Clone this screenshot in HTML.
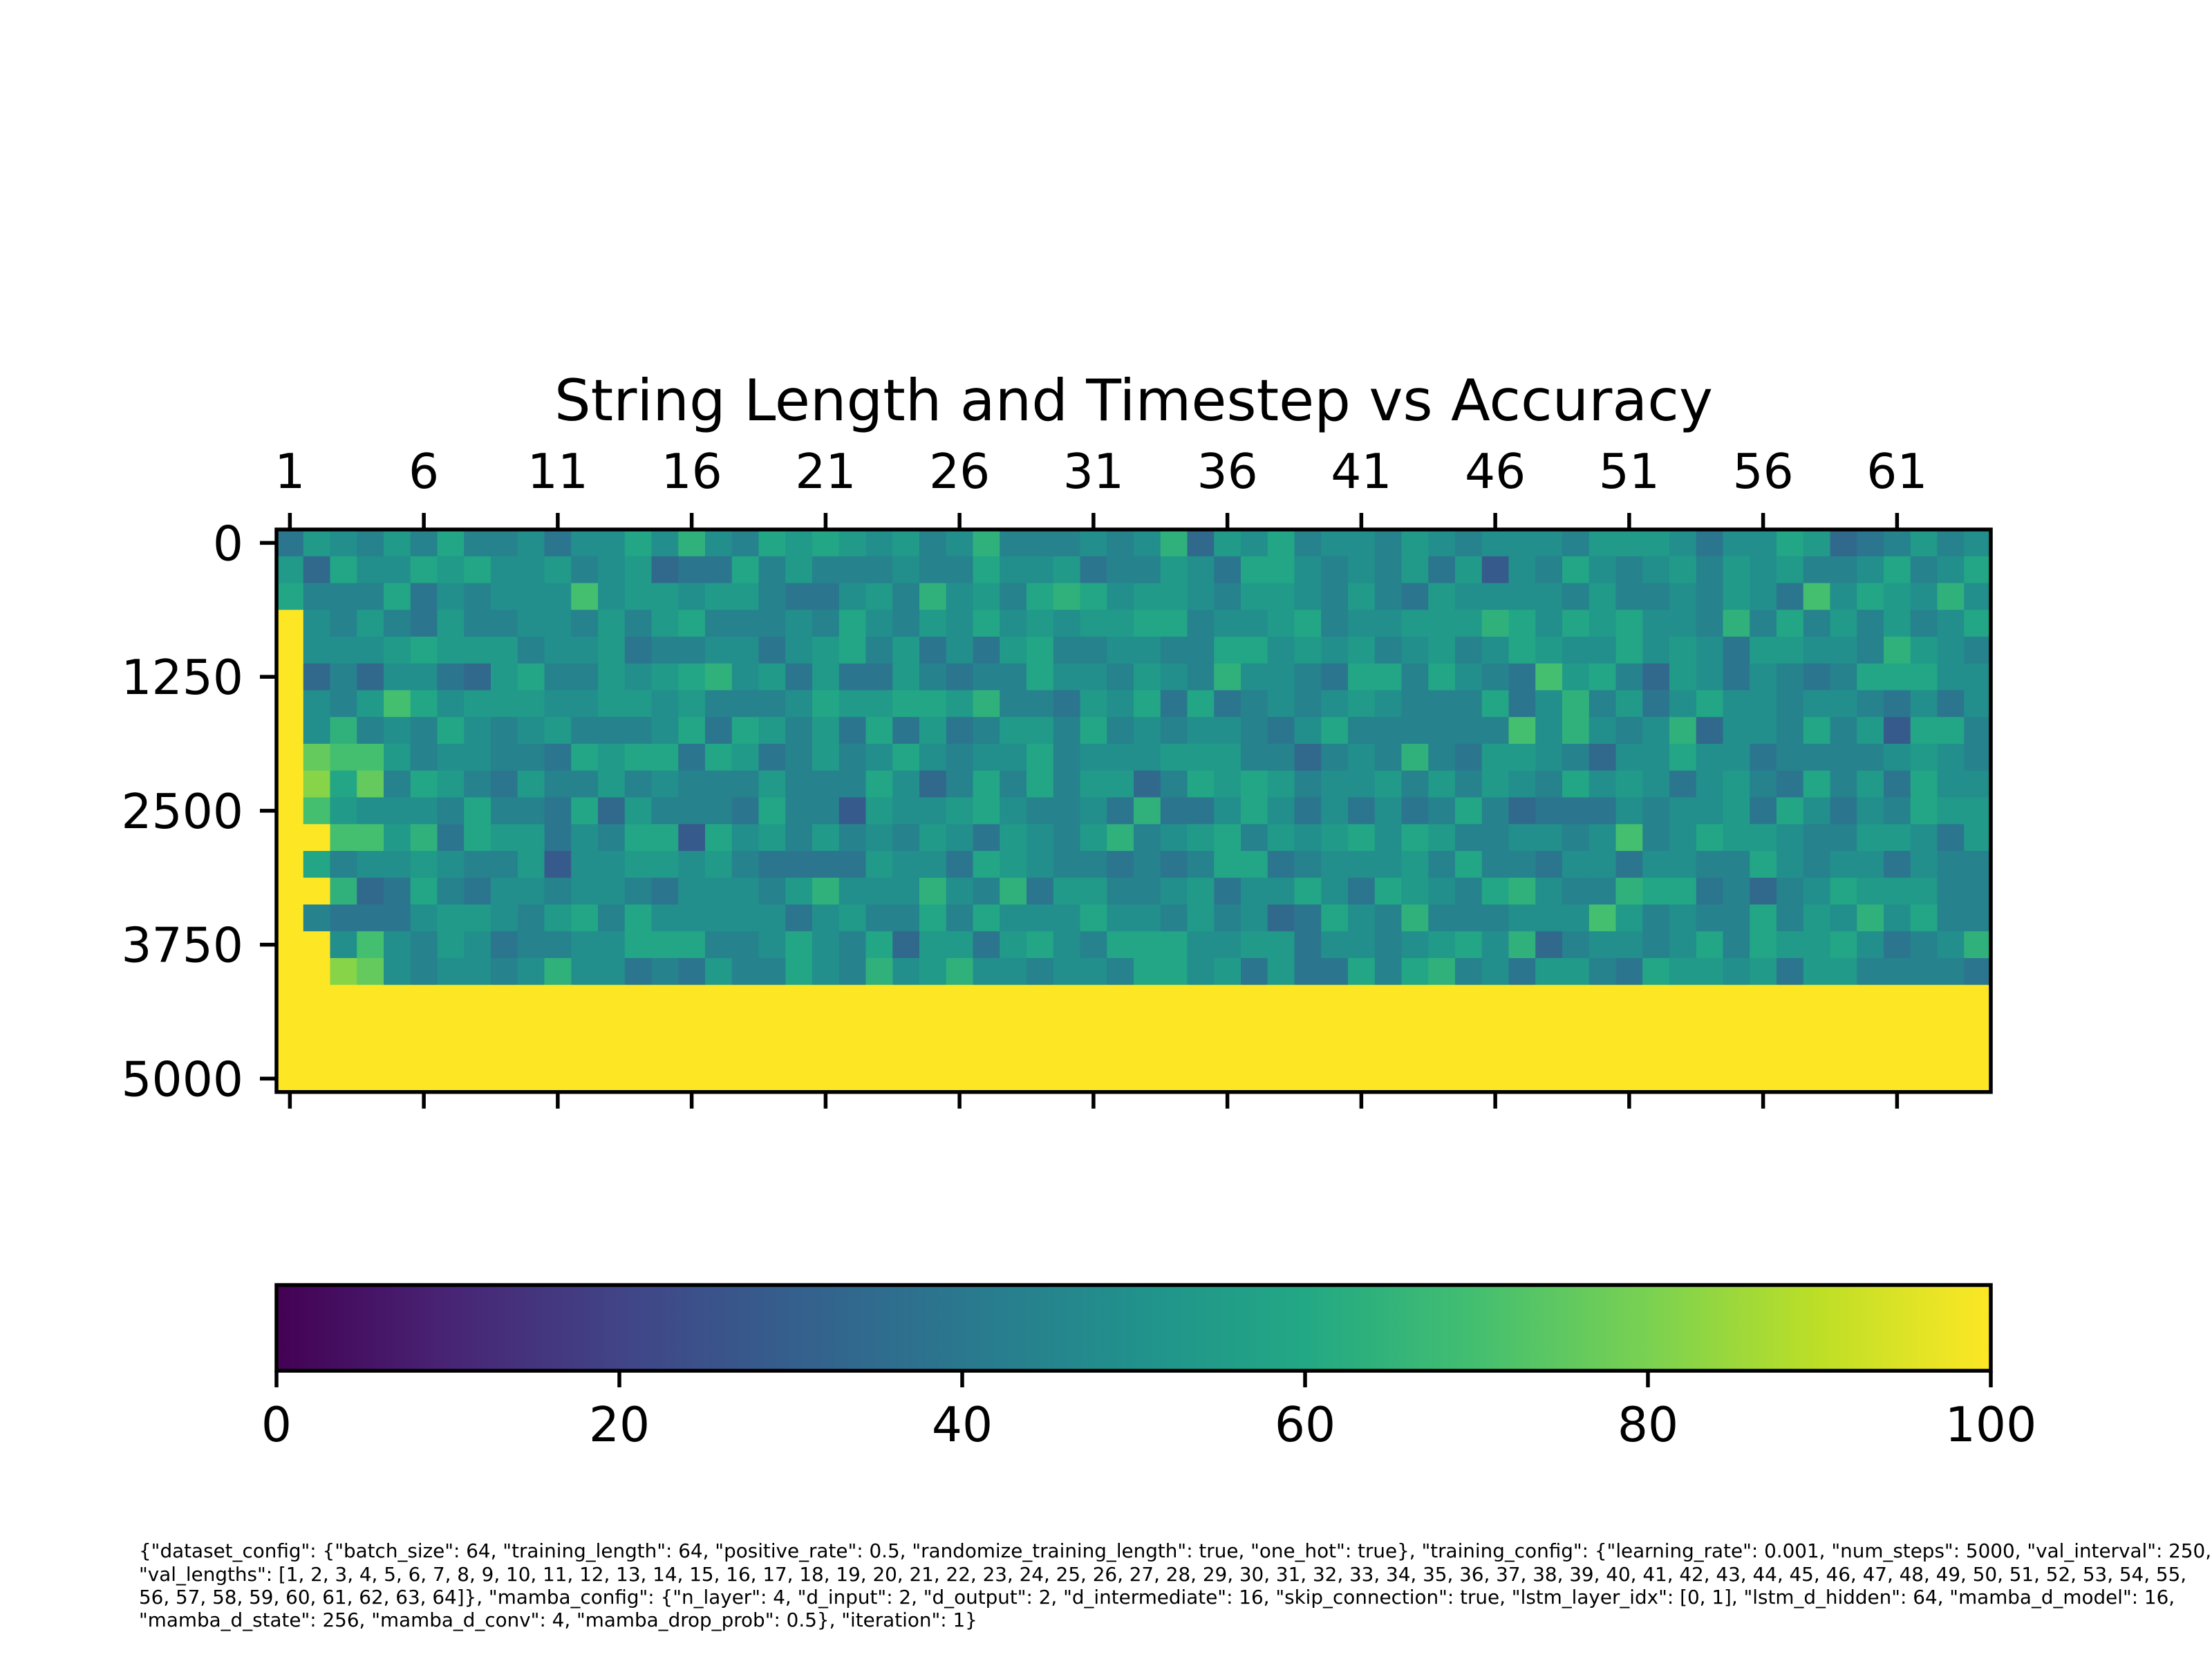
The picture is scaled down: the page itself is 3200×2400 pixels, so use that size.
<!DOCTYPE html>
<html><head><meta charset="utf-8"><title>String Length and Timestep vs Accuracy</title>
<style>
html,body{margin:0;padding:0;background:#fff;}
svg{display:block;font-family:"DejaVu Sans","Liberation Sans",sans-serif;}
</style></head>
<body>
<svg id="chart" width="3200" height="2400" viewBox="0 0 3200 2400" xmlns="http://www.w3.org/2000/svg">
<defs>
<linearGradient id="viridis" x1="0" x2="1" y1="0" y2="0">
<stop offset="0" stop-color="#440154"/><stop offset="0.1" stop-color="#482475"/><stop offset="0.2" stop-color="#414487"/><stop offset="0.3" stop-color="#355f8d"/><stop offset="0.4" stop-color="#2a788e"/><stop offset="0.5" stop-color="#21918c"/><stop offset="0.6" stop-color="#22a884"/><stop offset="0.7" stop-color="#44bf70"/><stop offset="0.8" stop-color="#7ad151"/><stop offset="0.9" stop-color="#bddf26"/><stop offset="1" stop-color="#fde725"/>
</linearGradient>
</defs>
<text x="1640" y="608" font-size="83" text-anchor="middle" fill="#000">String Length and Timestep vs Accuracy</text>
<g id="cells"></g>
<g id="axes"></g>
<g id="cbar"></g>
<g font-size="27.8" fill="#000">
<text x="201" y="2253">{"dataset_config": {"batch_size": 64, "training_length": 64, "positive_rate": 0.5, "randomize_training_length": true, "one_hot": true}, "training_config": {"learning_rate": 0.001, "num_steps": 5000, "val_interval": 250,</text>
<text x="201" y="2287">"val_lengths": [1, 2, 3, 4, 5, 6, 7, 8, 9, 10, 11, 12, 13, 14, 15, 16, 17, 18, 19, 20, 21, 22, 23, 24, 25, 26, 27, 28, 29, 30, 31, 32, 33, 34, 35, 36, 37, 38, 39, 40, 41, 42, 43, 44, 45, 46, 47, 48, 49, 50, 51, 52, 53, 54, 55,</text>
<text x="201" y="2320">56, 57, 58, 59, 60, 61, 62, 63, 64]}, "mamba_config": {"n_layer": 4, "d_input": 2, "d_output": 2, "d_intermediate": 16, "skip_connection": true, "lstm_layer_idx": [0, 1], "lstm_d_hidden": 64, "mamba_d_model": 16,</text>
<text x="201" y="2353">"mamba_d_state": 256, "mamba_d_conv": 4, "mamba_drop_prob": 0.5}, "iteration": 1}</text>
</g>
</svg>
<script>
// ---- data ----
const stringLengths = Array.from({length:64},(_,i)=>i+1);
const timesteps = [0,250,500,750,1000,1250,1500,1750,2000,2250,2500,2750,3000,3250,3500,3750,4000,4250,4500,4750,5000];
const xTickLabels = [1,6,11,16,21,26,31,36,41,46,51,56,61];
const yTickLabels = [0,1250,2500,3750,5000];
const cbarTickLabels = [0,20,40,60,80,100];
const accuracy = [
[39,54,49,44,54,44,59,44,44,49,39,49,49,59,49,64,49,44,59,54,59,54,49,54,44,49,64,44,44,44,49,44,49,64,34,54,49,59,44,49,49,44,54,49,44,49,49,49,44,54,54,54,49,39,49,49,59,54,34,39,44,54,44,49],
[54,34,59,49,49,59,54,59,49,49,54,44,49,54,34,39,39,59,44,54,44,44,44,49,44,44,59,49,49,54,39,44,44,54,49,39,59,59,49,44,49,44,54,39,54,28,49,44,59,49,44,49,54,44,54,49,54,44,44,49,59,44,49,59],
[59,44,44,44,59,39,49,44,49,49,49,70,49,54,54,49,54,54,44,39,39,49,54,44,64,49,54,44,59,64,59,49,54,54,49,44,54,54,49,44,54,44,39,54,49,49,49,49,44,54,44,44,49,44,54,49,39,70,49,59,54,49,64,49],
[100,49,44,54,44,39,54,44,44,49,49,44,54,44,54,59,44,44,44,49,44,59,49,44,54,49,59,49,54,49,54,54,59,59,44,49,49,54,59,44,49,49,54,54,54,64,59,49,59,54,59,49,49,44,64,44,59,44,54,44,54,44,49,59],
[100,49,49,49,54,59,54,54,54,44,49,49,54,39,44,44,49,49,39,49,54,59,44,54,39,49,39,54,59,44,44,49,49,44,44,59,59,49,54,49,54,44,49,54,44,49,59,54,49,49,59,49,54,49,39,54,54,49,49,44,64,54,49,44],
[100,34,44,34,49,49,39,34,54,59,44,44,54,49,54,59,64,49,54,39,54,39,39,54,44,39,44,44,59,49,49,44,54,49,44,64,49,49,44,39,59,59,44,59,49,44,39,70,54,59,44,34,54,49,39,49,44,39,44,59,59,59,49,49],
[100,49,44,54,70,59,49,54,54,54,49,49,54,54,49,54,44,44,44,49,59,54,54,59,59,54,64,44,44,39,54,49,59,39,59,39,44,49,44,49,54,49,44,44,44,59,39,49,64,44,54,39,49,59,49,49,44,49,49,44,39,49,39,49],
[100,49,64,44,49,44,59,49,44,49,54,44,44,44,49,59,39,59,54,44,54,39,59,39,54,39,44,54,54,44,59,44,49,44,49,49,44,39,49,59,44,44,44,44,44,44,70,49,64,49,44,49,64,34,49,49,44,59,44,54,28,59,59,44],
[100,76,70,70,54,44,49,49,44,44,39,59,54,59,59,39,59,54,39,44,54,44,49,59,49,44,49,49,59,44,49,49,49,54,54,54,44,44,34,44,49,44,64,44,39,54,54,49,44,34,49,49,59,49,49,39,44,44,44,44,49,54,49,44],
[100,82,59,76,44,59,54,44,39,54,44,44,54,44,49,44,44,44,54,44,44,44,59,49,34,44,59,44,59,44,54,54,34,44,59,54,59,54,44,49,49,54,44,54,44,54,49,44,59,49,54,49,39,49,54,44,39,59,44,54,39,59,49,49],
[100,70,54,49,49,49,44,59,44,44,39,59,34,54,44,44,44,39,59,44,44,28,54,49,49,54,59,49,44,44,49,39,64,39,39,49,59,49,39,49,39,49,39,44,59,44,34,39,39,39,49,44,49,49,54,39,59,49,39,49,44,59,54,54],
[100,100,70,70,54,64,39,59,54,54,39,49,44,59,59,28,59,49,54,44,54,44,49,44,54,49,39,54,49,44,54,64,44,49,54,59,44,54,49,54,59,49,59,54,44,44,49,49,44,49,70,44,49,59,54,54,49,44,44,54,54,49,39,54],
[100,59,44,49,49,54,49,44,44,54,28,49,49,54,54,49,54,44,39,39,39,39,54,49,49,39,59,54,49,44,44,39,44,39,44,59,59,39,44,49,49,49,54,44,59,44,44,39,49,49,39,49,49,44,44,59,49,44,49,49,39,49,44,44],
[100,100,64,34,39,59,44,39,49,49,44,49,49,44,39,49,49,49,44,54,64,49,49,49,64,49,44,64,39,54,54,44,44,49,54,39,49,49,59,49,39,59,54,49,44,59,64,49,44,44,64,59,59,39,44,34,44,49,59,54,54,54,44,44],
[100,44,39,39,39,49,54,54,49,44,54,59,44,59,49,49,49,49,49,39,49,54,44,44,59,44,59,49,49,49,59,49,49,44,54,44,49,34,39,59,49,44,64,44,44,44,49,49,49,70,54,44,49,44,44,59,44,54,49,64,49,59,44,44],
[100,100,49,70,49,44,54,49,39,44,44,49,49,59,59,59,44,44,49,59,49,44,59,34,54,54,39,54,59,49,44,59,59,59,49,49,54,54,39,49,49,44,49,54,59,49,64,34,44,49,49,44,49,59,44,59,54,54,59,49,39,44,49,64],
[100,100,82,76,49,44,49,49,44,49,64,49,49,39,44,39,54,44,44,59,49,44,64,49,54,64,49,49,44,49,49,44,59,59,49,54,39,54,39,39,59,44,59,64,44,49,39,54,54,44,39,59,54,54,49,54,39,54,54,44,44,44,44,39],
[100,100,100,100,100,100,100,100,100,100,100,100,100,100,100,100,100,100,100,100,100,100,100,100,100,100,100,100,100,100,100,100,100,100,100,100,100,100,100,100,100,100,100,100,100,100,100,100,100,100,100,100,100,100,100,100,100,100,100,100,100,100,100,100],
[100,100,100,100,100,100,100,100,100,100,100,100,100,100,100,100,100,100,100,100,100,100,100,100,100,100,100,100,100,100,100,100,100,100,100,100,100,100,100,100,100,100,100,100,100,100,100,100,100,100,100,100,100,100,100,100,100,100,100,100,100,100,100,100],
[100,100,100,100,100,100,100,100,100,100,100,100,100,100,100,100,100,100,100,100,100,100,100,100,100,100,100,100,100,100,100,100,100,100,100,100,100,100,100,100,100,100,100,100,100,100,100,100,100,100,100,100,100,100,100,100,100,100,100,100,100,100,100,100],
[100,100,100,100,100,100,100,100,100,100,100,100,100,100,100,100,100,100,100,100,100,100,100,100,100,100,100,100,100,100,100,100,100,100,100,100,100,100,100,100,100,100,100,100,100,100,100,100,100,100,100,100,100,100,100,100,100,100,100,100,100,100,100,100]
];

// ---- layout / scales ----
const NS = 'http://www.w3.org/2000/svg';
const AX = {left:400, right:2880, top:766};
const cellW = (AX.right-AX.left)/stringLengths.length;
const cellH = cellW;
AX.bottom = AX.top + cellH*timesteps.length;
const xScale = len => AX.left + (len - stringLengths[0] + 0.5)*cellW;
const stepSize = timesteps[1]-timesteps[0];
const yScale = t => AX.top + (t/stepSize + 0.5)*cellH;
const stops = ['#440154','#482475','#414487','#355f8d','#2a788e','#21918c','#22a884','#44bf70','#7ad151','#bddf26','#fde725'];
function hex(c){return [1,3,5].map(i=>parseInt(c.substr(i,2),16));}
function viridis(v){
  let t=Math.max(0,Math.min(1,v/100))*(stops.length-1);
  let i=Math.min(stops.length-2,Math.floor(t)), f=t-i;
  const a=hex(stops[i]), b=hex(stops[i+1]);
  return 'rgb('+a.map((x,k)=>Math.round(x+(b[k]-x)*f)).join(',')+')';
}
function mk(tag, attrs, parent){
  const e=document.createElementNS(NS,tag);
  for(const k in attrs) e.setAttribute(k,attrs[k]);
  parent.appendChild(e); return e;
}
const cellsG=document.getElementById('cells');
accuracy.forEach((row,r)=>{
  row.forEach((v,c)=>{
    const x=xScale(stringLengths[c])-cellW/2, y=yScale(timesteps[r])-cellH/2;
    const el=mk('rect',{x:x.toFixed(2),y:y.toFixed(2),width:(cellW+0.6).toFixed(2),height:(cellH+0.6).toFixed(2),fill:viridis(v)},cellsG);
    
    
  });
});
const axG=document.getElementById('axes');
const frame=mk('rect',{x:AX.left,y:AX.top,width:AX.right-AX.left,height:AX.bottom-AX.top,fill:'none',stroke:'#000','stroke-width':5.5},axG);


xTickLabels.forEach(v=>{
  const x=xScale(v);
  const t1=mk('line',{x1:x,x2:x,y1:AX.top,y2:AX.top-24,stroke:'#000','stroke-width':5.5},axG);
  
  
  const t2=mk('line',{x1:x,x2:x,y1:AX.bottom,y2:AX.bottom+24,stroke:'#000','stroke-width':5.5},axG);
  
  
  const lb=mk('text',{x:x,y:AX.top-60,'font-size':69.4,'text-anchor':'middle',fill:'#000'},axG);
  lb.textContent=v;
  
  
});
yTickLabels.forEach(v=>{
  const y=yScale(v);
  const t=mk('line',{x1:AX.left,x2:AX.left-24,y1:y,y2:y,stroke:'#000','stroke-width':5.5},axG);
  
  
  const lb=mk('text',{x:AX.left-48,y:y+25,'font-size':69.4,'text-anchor':'end',fill:'#000'},axG);
  lb.textContent=v;
  
  
});
// colorbar
const CB={left:400,right:2880,top:1859,bottom:1983};
const cbScale=v=>CB.left+(v/100)*(CB.right-CB.left);
const cbG=document.getElementById('cbar');
const grad=mk('rect',{x:CB.left,y:CB.top,width:CB.right-CB.left,height:CB.bottom-CB.top,fill:'url(#viridis)',stroke:'#000','stroke-width':5.5},cbG);


cbarTickLabels.forEach(v=>{
  const x=cbScale(v);
  const t=mk('line',{x1:x,x2:x,y1:CB.bottom,y2:CB.bottom+24,stroke:'#000','stroke-width':5.5},cbG);
  
  
  const lb=mk('text',{x:x,y:2085,'font-size':69.4,'text-anchor':'middle',fill:'#000'},cbG);
  lb.textContent=v;
  
  
});
</script>
</body></html>
